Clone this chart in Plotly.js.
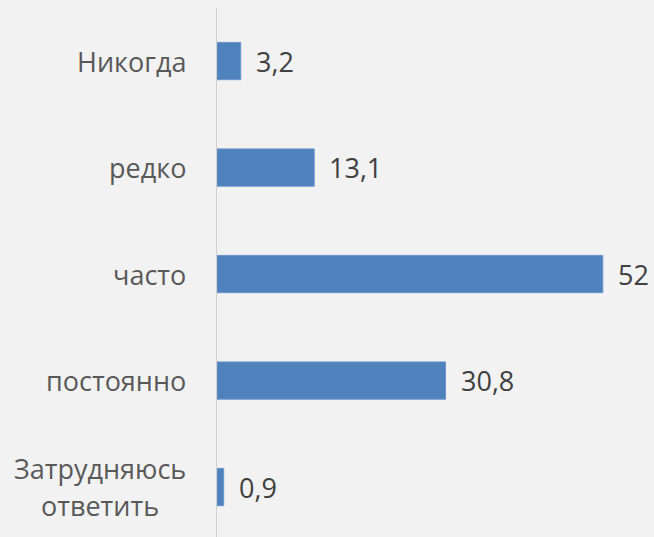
<!DOCTYPE html>
<html>
<head>
<meta charset="utf-8">
<script src="https://cdn.plot.ly/plotly-3.0.1.min.js"></script>
<style>html,body{margin:0;padding:0;background:#f2f2f2;}</style>
</head>
<body>
<div id="chart" style="width:654px;height:537px;"></div>
<script>
const categories = ["Никогда", "редко", "часто", "постоянно", "Затрудняюсь ответить"];
const categoryLines = [["Никогда"], ["редко"], ["часто"], ["постоянно"], ["Затрудняюсь", "ответить"]];
const values = [3.2, 13.1, 52, 30.8, 0.9];
const valueLabels = ["3,2", "13,1", "52", "30,8", "0,9"];

const FONT = "Open Sans, Noto Sans, sans-serif";
const LINE_GAP = 37;

const trace = {
  type: "bar",
  orientation: "h",
  y: categories,
  x: values,
  width: 0.35,
  marker: {color: "#4f81bd", line: {color: "#6a95cb", width: 1}},
  hoverinfo: "skip"
};

const annotations = [];
categories.forEach((c, i) => {
  annotations.push({
    x: values[i], y: c, xref: "x", yref: "y",
    text: valueLabels[i], showarrow: false,
    xanchor: "left", yanchor: "middle", xshift: 13,
    font: {family: FONT, size: 27, color: "#404040"}
  });
  const lines = categoryLines[i];
  const n = lines.length;
  lines.forEach((ln, k) => {
    annotations.push({
      x: 0, y: c, xref: "paper", yref: "y",
      text: ln, showarrow: false,
      xanchor: "center", yanchor: "middle",
      xshift: -31 - 0, 
      yshift: ((n - 1) / 2 - k) * LINE_GAP,
      font: {family: FONT, size: 27, color: "#595959"},
      _line: true
    });
  });
});
// right-align the block of lines as a whole, centering lines within it
const blockWidths = {};
</script>
<script>
// measure text widths to center multi-line labels within a right-aligned block
(function(){
  const ctx = document.createElement("canvas").getContext("2d");
  ctx.font = "27px 'Open Sans'";
  let idx = 0;
  categories.forEach((c, i) => {
    idx++; // value label
    const lines = categoryLines[i];
    const w = Math.max(...lines.map(l => ctx.measureText(l).width));
    lines.forEach(() => {
      const a = annotations[idx];
      a.xshift = -31 - w / 2;
      delete a._line;
      idx++;
    });
  });
})();

const layout = {
  width: 654, height: 537,
  margin: {l: 217, r: 0, t: 8, b: 0},
  paper_bgcolor: "#f2f2f2",
  plot_bgcolor: "rgba(0,0,0,0)",
  showlegend: false,
  xaxis: {range: [0, 58.9], visible: false, fixedrange: true},
  yaxis: {
    type: "category",
    categoryorder: "array", categoryarray: categories,
    range: [4.469, -0.498],
    showticklabels: false, ticks: "",
    showgrid: false, zeroline: false,
    showline: true, linecolor: "#d0d0d0", linewidth: 1.5,
    fixedrange: true
  },
  annotations: annotations
};

document.fonts.load("27px 'Open Sans'").finally(() => {
  Plotly.newPlot("chart", [trace], layout, {displayModeBar: false, staticPlot: true});
});
</script>
</body>
</html>
